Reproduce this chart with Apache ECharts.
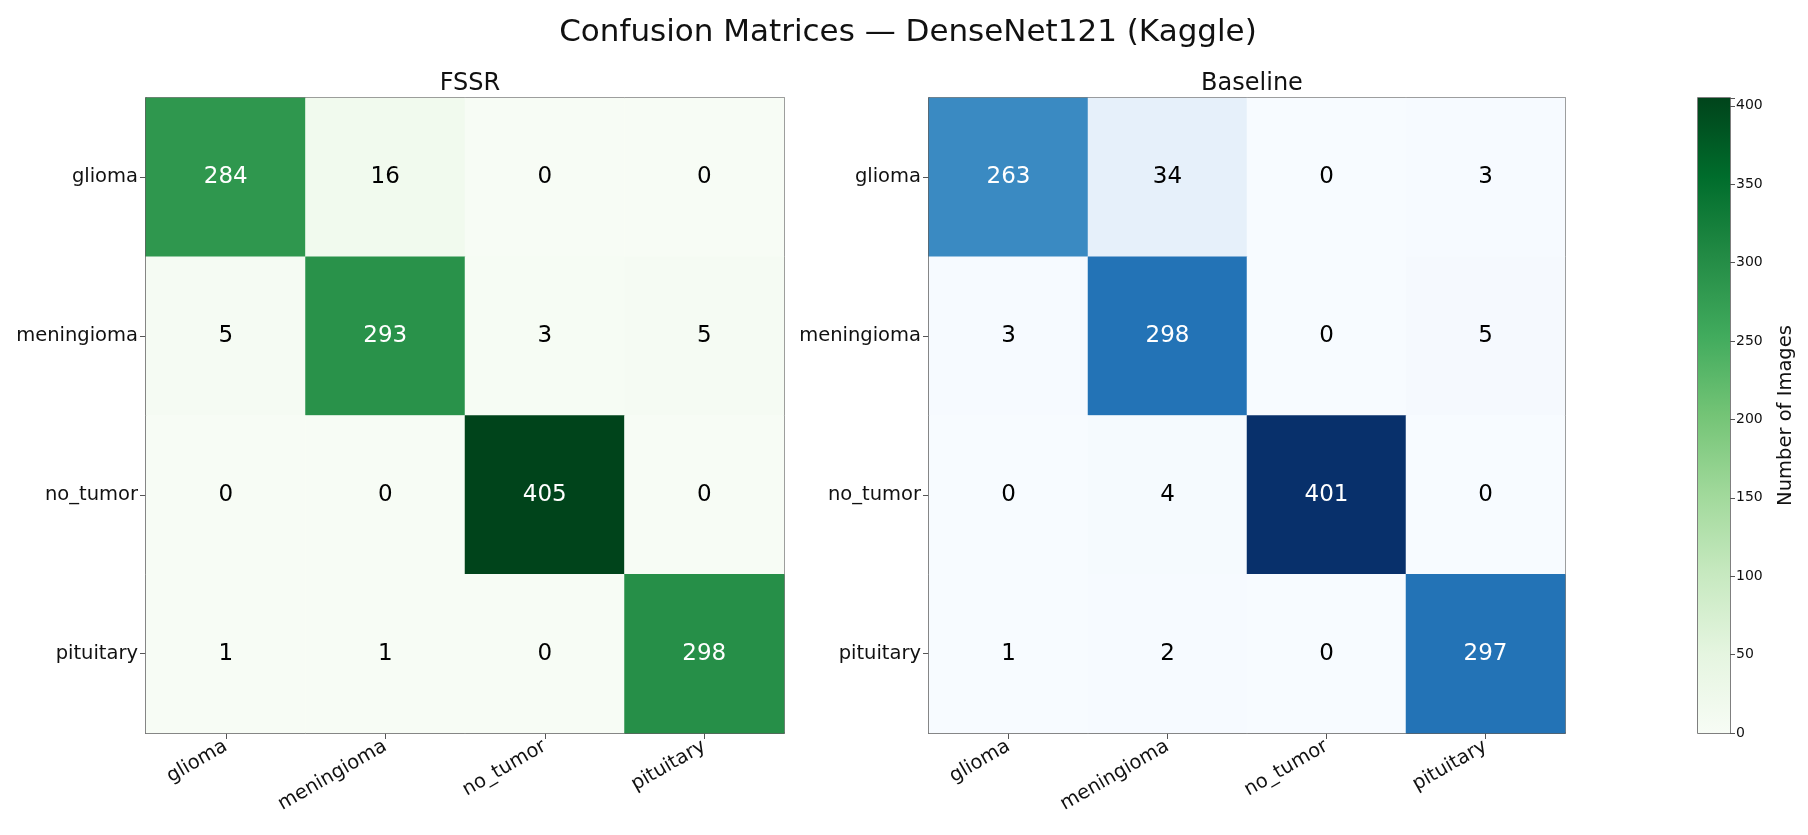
<!DOCTYPE html>
<html>
<head>
<meta charset="utf-8">
<script src="https://cdn.jsdelivr.net/npm/echarts@6/dist/echarts.min.js"></script>
<style>html,body{margin:0;padding:0;background:#fff}#c{width:1808px;height:835px}</style>
</head>
<body>
<div id="c"></div>
<script>
const classes = ['glioma', 'meningioma', 'no_tumor', 'pituitary'];
// rows = true class, cols = predicted
const fssrMatrix = [
  [284, 16, 0, 0],
  [5, 293, 3, 5],
  [0, 0, 405, 0],
  [1, 1, 0, 298]
];
const baselineMatrix = [
  [263, 34, 0, 3],
  [3, 298, 0, 5],
  [0, 4, 401, 0],
  [1, 2, 0, 297]
];
const colorbarTicks = [0, 50, 100, 150, 200, 250, 300, 350, 400];

const greens = ['#f7fcf5','#e5f5e0','#c7e9c0','#a1d99b','#74c476','#41ab5d','#238b45','#006d2c','#00441b'];
const blues = ['#f7fbff','#deebf7','#c6dbef','#9ecae1','#6baed6','#4292c6','#2171b5','#08519c','#08306b'];

function maxOf(m){ return Math.max(...m.flat()); }
function toData(m){
  const mx = maxOf(m);
  const out = [];
  m.forEach((row, r) => row.forEach((v, c) => {
    out.push({value: [c, r, v], label: {color: v > mx / 2 ? '#ffffff' : '#000000'}});
  }));
  return out;
}
const FONT = 'DejaVu Sans';
const fMax = maxOf(fssrMatrix), bMax = maxOf(baselineMatrix);

function xAx(gi){
  return {type:'category', gridIndex:gi, data:classes, boundaryGap:true,
    axisLine:{show:true, lineStyle:{color:'#555', width:1.5}},
    axisTick:{show:true, alignWithLabel:true, length:6, lineStyle:{color:'#555'}},
    axisLabel:{rotate:30, fontFamily:FONT, fontSize:19.5, color:'#111', margin:12},
    splitLine:{show:false}};
}
function yAx(gi){
  return {type:'category', gridIndex:gi, data:classes, inverse:true, boundaryGap:true,
    axisLine:{show:true, lineStyle:{color:'#555', width:1.5}},
    axisTick:{show:true, alignWithLabel:true, length:6, lineStyle:{color:'#555'}},
    axisLabel:{fontFamily:FONT, fontSize:19.5, color:'#111', margin:8},
    splitLine:{show:false}};
}
const chart = echarts.init(document.getElementById('c'), null, {renderer:'canvas'});
chart.setOption({
  backgroundColor:'#ffffff',
  animation:false,
  title:[
    {text:'Confusion Matrices — DenseNet121 (Kaggle)', left:903, top:12, textAlign:'center',
      textStyle:{fontFamily:FONT, fontSize:31, fontWeight:'normal', color:'#111'}},
    {text:'FSSR', left:465, top:67, textAlign:'center',
      textStyle:{fontFamily:FONT, fontSize:24, fontWeight:'normal', color:'#111'}},
    {text:'Baseline', left:1247, top:67, textAlign:'center',
      textStyle:{fontFamily:FONT, fontSize:24, fontWeight:'normal', color:'#111'}}
  ],
  grid:[
    {left:146, top:98, width:638, height:635, show:true, borderColor:'#555', borderWidth:1.5, backgroundColor:'transparent'},
    {left:929, top:98, width:636, height:635, show:true, borderColor:'#555', borderWidth:1.5, backgroundColor:'transparent'},
    {left:1698, top:98, width:32, height:635, show:true, borderColor:'#555', borderWidth:1.5, backgroundColor:'transparent'}
  ],
  xAxis:[xAx(0), xAx(1),
    {type:'category', gridIndex:2, data:[''], show:false}],
  yAxis:[yAx(0), yAx(1),
    {type:'value', gridIndex:2, position:'right', min:0, max:fMax, interval:50,
      axisLine:{show:false}, splitLine:{show:false},
      axisTick:{show:true, length:5, lineStyle:{color:'#555'}},
      axisLabel:{fontFamily:FONT, fontSize:14, color:'#111', margin:6,
        formatter: v => colorbarTicks.includes(v) ? String(v) : ''},
      name:'Number of Images', nameLocation:'middle', nameRotate:90, nameGap:46,
      nameTextStyle:{fontFamily:FONT, fontSize:19.5, color:'#111'}}],
  visualMap:[
    {show:false, type:'continuous', seriesIndex:0, min:0, max:fMax, dimension:2, inRange:{color:greens}},
    {show:false, type:'continuous', seriesIndex:1, min:0, max:bMax, dimension:2, inRange:{color:blues}}
  ],
  series:[
    {type:'heatmap', xAxisIndex:0, yAxisIndex:0, data:toData(fssrMatrix),
      label:{show:true, fontFamily:FONT, fontSize:23, formatter: p => String(p.value[2])},
      itemStyle:{borderWidth:0}},
    {type:'heatmap', xAxisIndex:1, yAxisIndex:1, data:toData(baselineMatrix),
      label:{show:true, fontFamily:FONT, fontSize:23, formatter: p => String(p.value[2])},
      itemStyle:{borderWidth:0}},
    {type:'bar', xAxisIndex:2, yAxisIndex:2, data:[fMax], barWidth:'100%', silent:true,
      itemStyle:{color:new echarts.graphic.LinearGradient(0,1,0,0,
        greens.map((c,i)=>({offset:i/(greens.length-1), color:c})))}}
  ]
});
</script>
</body>
</html>
